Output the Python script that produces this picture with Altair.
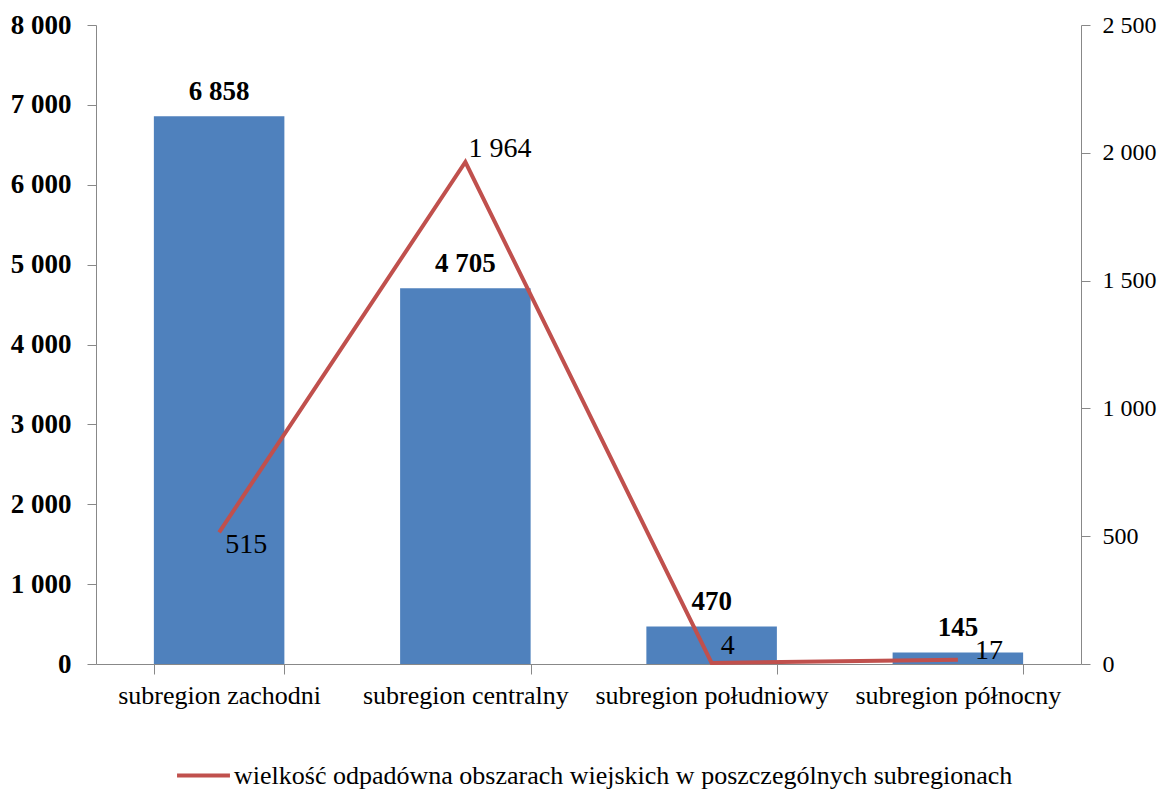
import altair as alt
import pandas as pd

categories = ["subregion zachodni", "subregion centralny", "subregion południowy", "subregion północny"]
bar_values = [6858, 4705, 470, 145]
line_values = [515, 1964, 4, 17]
series_name = "wielkość odpadówna obszarach wiejskich w poszczególnych subregionach"
left_ticks = [0, 1000, 2000, 3000, 4000, 5000, 6000, 7000, 8000]
right_ticks = [0, 500, 1000, 1500, 2000, 2500]

df = pd.DataFrame({
    "cat": categories,
    "bar": bar_values,
    "line": line_values,
    "series": [series_name] * len(categories),
})

FONT = "Liberation Serif"
fmt = "replace(format(datum.value, ','), ',', ' ')"

x = alt.X("cat:N", sort=categories, title=None,
          scale=alt.Scale(paddingInner=0.47, paddingOuter=0.235),
          axis=alt.Axis(labelAngle=0, labelFont=FONT, labelFontSize=26, labelColor="black",
                        tickBand="extent", tickSize=10, tickColor="#888888",
                        domainColor="#888888", labelPadding=8, labelLimit=0))

base = alt.Chart(df)

bars = base.mark_bar(color="#4F81BD").encode(
    x=x,
    y=alt.Y("bar:Q", title=None,
            scale=alt.Scale(domain=[0, 8000], nice=False),
            axis=alt.Axis(values=left_ticks, labelExpr=fmt, labelFont=FONT, labelFontSize=27,
                          labelFontWeight="bold", labelColor="black", grid=False,
                          tickSize=9, tickColor="#888888", domainColor="#888888",
                          labelPadding=16)),
)

bar_text = base.mark_text(font=FONT, fontSize=27, fontWeight="bold", baseline="bottom",
                          dy=-10, color="black").transform_calculate(
    lab="replace(format(datum.bar, ','), ',', ' ')"
).encode(x=x, y=alt.Y("bar:Q"), text="lab:N")

left = alt.layer(bars, bar_text)

yr = alt.Y("line:Q", title=None,
           scale=alt.Scale(domain=[0, 2500], nice=False),
           axis=alt.Axis(orient="right", values=right_ticks, labelExpr=fmt, labelFont=FONT,
                         labelFontSize=24, labelColor="black", grid=False, tickSize=9,
                         tickColor="#888888", domainColor="#888888", labelPadding=12))

line = base.mark_line(strokeWidth=4).encode(
    x=x, y=yr,
    color=alt.Color("series:N", scale=alt.Scale(range=["#C0504D"]),
                    legend=alt.Legend(title=None, orient="none", legendX=79, legendY=722,
                                      symbolType="stroke", symbolStrokeWidth=4, symbolSize=2800,
                                      labelFont=FONT, labelFontSize=26, labelColor="black",
                                      labelOffset=2, labelLimit=0)),
)

def line_label(cat, dx, dy):
    return base.transform_filter(alt.datum.cat == cat).mark_text(
        font=FONT, fontSize=28, color="black", align="left", baseline="middle", dx=dx, dy=dy
    ).transform_calculate(lab="replace(format(datum.line, ','), ',', ' ')").encode(
        x=x, y=alt.Y("line:Q"), text="lab:N")

offsets = {categories[0]: (6, 13), categories[1]: (3, -13), categories[2]: (9, -17), categories[3]: (17, -9)}
right = alt.layer(line, *[line_label(c, *offsets[c]) for c in categories])

chart = alt.layer(left, right).resolve_scale(y="independent").properties(
    width=985, height=639,
    autosize=alt.AutoSizeParams(type="none"),
    padding={"left": 88, "top": 17, "right": 81, "bottom": 130},
).configure_view(stroke=None)

chart.save("out.html", embed_options={"renderer": "svg", "actions": False})
